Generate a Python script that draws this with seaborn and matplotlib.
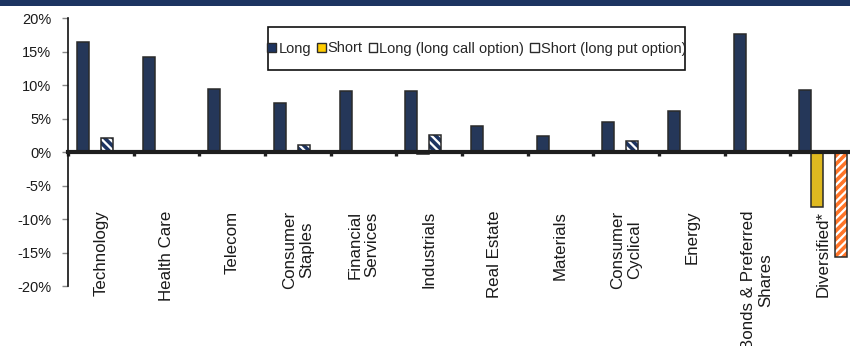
import numpy as np
import pandas as pd
import matplotlib
matplotlib.use("Agg")
import matplotlib.pyplot as plt
import seaborn as sns
from matplotlib.patches import Rectangle, Patch
from matplotlib.ticker import FixedLocator, FuncFormatter

nan = np.nan

# Sector allocation (% of portfolio)
sectors = ["Technology", "Health Care", "Telecom", "Consumer\nStaples",
           "Financial\nServices", "Industrials", "Real Estate", "Materials",
           "Consumer\nCyclical", "Energy", "Bonds & Preferred\nShares",
           "Diversified*"]
long_pos = [16.5, 14.2, 9.4, 7.3, 9.1, 9.1, 4.0, 2.4, 4.5, 6.1, 17.7, 9.3]
short_pos = [nan, nan, nan, nan, nan, -0.3, nan, nan, nan, nan, nan, -8.1]
long_call = [2.1, nan, nan, 1.1, nan, 2.6, nan, nan, 1.7, nan, nan, nan]
short_put = [nan, nan, nan, nan, nan, nan, nan, nan, nan, nan, nan, -15.7]

series = ["Long", "Short", "Long (long call option)", "Short (long put option)"]
yticks = [-20, -15, -10, -5, 0, 5, 10, 15, 20]

NAVY = "#1D3461"
YELLOW = "#FFCC00"
ORANGE = "#FF7428"
EDGE = "#2A2A2A"

sns.set_style("white")
plt.rcParams["font.family"] = ["Liberation Sans", "DejaVu Sans"]
plt.rcParams["hatch.linewidth"] = 2.6

df = pd.DataFrame({
    "sector": sectors * 4,
    "series": np.repeat(series, len(sectors)),
    "value": long_pos + short_pos + long_call + short_put,
})

fig = plt.figure(figsize=(8.5, 3.46), dpi=100)
ax = fig.add_axes([68 / 850, 1 - 286.3 / 346, 788 / 850, 268 / 346])

sns.barplot(data=df, x="sector", y="value", hue="series", order=sectors,
            hue_order=series, palette=[NAVY, YELLOW, "white", "white"],
            width=0.73, gap=0, dodge=True, errorbar=None,
            edgecolor=EDGE, linewidth=1.1, legend=False, ax=ax)

# Option positions: white bars with coloured diagonal stripes and a dark outline
hatch_styles = {2: (NAVY, "\\\\\\\\"), 3: (ORANGE, "////")}
for idx, container in enumerate(ax.containers):
    if idx not in hatch_styles:
        continue
    color, hatch = hatch_styles[idx]
    for bar in container:
        bar.set_hatch(hatch)
        bar.set_edgecolor(color)
        bar.set_linewidth(0)
        ax.add_patch(Rectangle(bar.get_xy(), bar.get_width(), bar.get_height(),
                               fill=False, edgecolor=EDGE, linewidth=1.1,
                               zorder=bar.get_zorder() + 0.1))

ax.set_xlim(-0.5, len(sectors) - 0.5)
ax.set_ylim(-20, 20)
ax.set_xlabel("")
ax.set_ylabel("")

# Axes styling
for side in ("top", "right"):
    ax.spines[side].set_visible(False)
ax.spines["left"].set_color("#111111")
ax.spines["left"].set_linewidth(1.2)
ax.spines["bottom"].set_position(("data", 0))
ax.spines["bottom"].set_color("#1E1E1E")
ax.spines["bottom"].set_linewidth(3)
ax.spines["bottom"].set_zorder(5)

ax.yaxis.set_major_locator(FixedLocator(yticks))
ax.yaxis.set_major_formatter(FuncFormatter(lambda v, _: f"{v:.0f}%"))
ax.tick_params(axis="y", direction="out", length=4, width=1, color="#888888",
               labelsize=10.5, labelcolor="#1A1A1A", pad=8, left=True)

ax.set_xticks(range(len(sectors)))
ax.set_xticklabels(sectors, rotation=90, va="top", ha="center",
                   multialignment="center", fontsize=12.2, color="#1A1A1A")
ax.tick_params(axis="x", which="major", length=0, pad=42)
ax.xaxis.set_minor_locator(FixedLocator(np.arange(-0.5, len(sectors), 1.0)))
ax.tick_params(axis="x", which="minor", direction="out", length=3, width=2.4,
               color="#1E1E1E", bottom=True)

# Legend in a plain rectangular frame
handles = [
    Patch(facecolor=NAVY, edgecolor=EDGE, linewidth=1),
    Patch(facecolor=YELLOW, edgecolor=EDGE, linewidth=1),
    Patch(facecolor="white", edgecolor=EDGE, linewidth=1),
    Patch(facecolor="white", edgecolor=EDGE, linewidth=1),
]
leg = fig.legend(handles, series, loc="center", ncol=4,
                 bbox_to_anchor=(477 / 850, 1 - 48.5 / 346),
                 bbox_transform=fig.transFigure, frameon=False,
                 fontsize=10.5, handlelength=0.6, handleheight=0.6,
                 handletextpad=0.15, columnspacing=0.4, borderpad=0)
fig.patches.append(Rectangle((268 / 850, 1 - 70 / 346), 417 / 850, 43 / 346,
                             transform=fig.transFigure, fill=False,
                             edgecolor="#111111", linewidth=1.2))

# Header band
fig.patches.append(Rectangle((0, 1 - 6 / 346), 1, 6 / 346,
                             transform=fig.transFigure, facecolor=NAVY,
                             edgecolor="none"))

fig.savefig("out.png", dpi=100)
